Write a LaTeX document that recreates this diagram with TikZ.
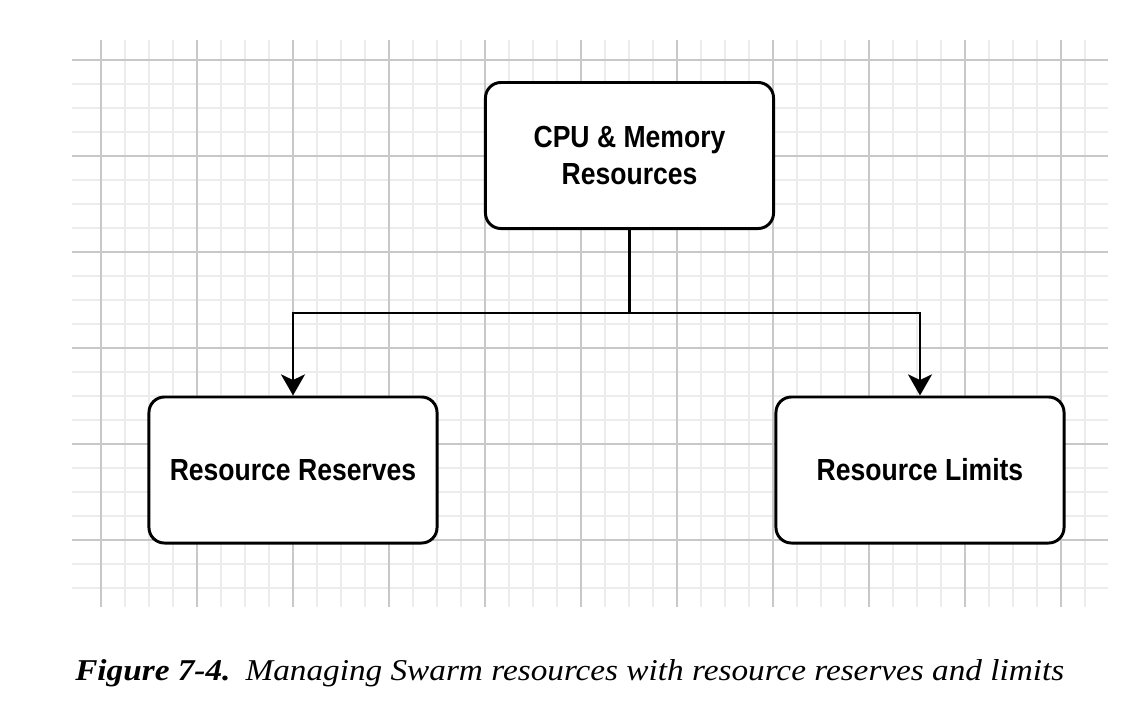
\documentclass[tikz,border=0pt]{standalone}
\usepackage{fontspec}
\setmainfont{Liberation Serif}
\newfontfamily\boxfont{Liberation Sans}[FakeStretch=0.87]
\newfontfamily\capfont{Liberation Serif}[FakeStretch=1.1]
\usetikzlibrary{arrows.meta}
\definecolor{GridMinor}{RGB}{236,236,236}
\definecolor{GridMajor}{RGB}{200,200,200}
\tikzset{
  gridminor/.style={draw=GridMinor,line width=1.3pt},
  gridmajor/.style={draw=GridMajor,line width=1.6pt},
  res/.style={draw=black,fill=white,line width=2.1pt,rounded corners=11pt,
    minimum width=7.2cm,minimum height=3.65cm,align=center,
    font=\boxfont\bfseries\fontsize{21.7}{27}\selectfont},
  conn/.style={draw=black,line width=2.1pt,-{Stealth[length=15pt,width=17pt,inset=4pt]}},
}

\begin{document}
\begin{tikzpicture}[x=0.025cm,y=-0.025cm]
\useasboundingbox (0,0) rectangle (1132,712);
% squared paper
\foreach \i in {0,...,41} \draw[gridminor] (101+24*\i,40) -- (101+24*\i,607);
\foreach \j in {0,...,22} \draw[gridminor] (72,60+24*\j) -- (1108,60+24*\j);
\foreach \i in {0,...,10} \draw[gridmajor] (101+96*\i,40) -- (101+96*\i,607);
\foreach \j in {0,...,5} \draw[gridmajor] (72,60+96*\j) -- (1108,60+96*\j);
% boxes
\node[res] (cpu) at (629.5,155.5) {CPU \& Memory\\Resources};
\node[res] (reserves) at (293,470) {Resource Reserves};
\node[res] (limits) at (920,470) {Resource Limits};
\draw[conn] (cpu.south) -- ++(0,83) -| (reserves.north);
\draw[conn] (cpu.south) -- ++(0,83) -| (limits.north);
% caption
\node[anchor=base west,inner sep=0pt,font=\capfont\fontsize{21.5}{26}\selectfont\itshape] (caption) at (75,680)
  {{\bfseries Figure 7-4.}\enspace Managing Swarm resources with resource reserves and limits};
\end{tikzpicture}
\end{document}
